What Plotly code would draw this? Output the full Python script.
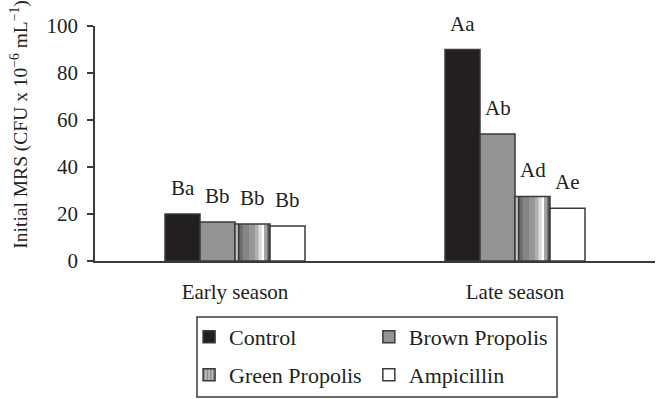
import plotly.graph_objects as go

# Data
seasons = ["Early season", "Late season"]
treatments = ["Control", "Brown Propolis", "Green Propolis", "Ampicillin"]
control = [20.0, 90.0]
brown_propolis = [16.6, 54.0]
green_propolis = [15.7, 27.5]
ampicillin = [14.9, 22.5]
letters = {
    "Control": ["Ba", "Aa"],
    "Brown Propolis": ["Bb", "Ab"],
    "Green Propolis": ["Bb", "Ad"],
    "Ampicillin": ["Bb", "Ae"],
}

values = {
    "Control": control,
    "Brown Propolis": brown_propolis,
    "Green Propolis": green_propolis,
    "Ampicillin": ampicillin,
}

FONT = "Liberation Serif"
TXT = "#231f20"
EDGE = "#3a3a3a"
xpos = list(range(len(seasons)))
bar_w = 0.125
offsets = [-2 * bar_w, -bar_w, 0.0, bar_w]
fills = {"Control": "#231f20", "Brown Propolis": "#939393",
         "Green Propolis": "#8a8a8a", "Ampicillin": "#ffffff"}
# one legend box per entry, laid out as a 2 x 2 grid (paper coords)
legend_ids = {"Control": "legend", "Brown Propolis": "legend2",
              "Green Propolis": "legend3", "Ampicillin": "legend4"}
legend_xy = {"legend": (0.168, -0.234), "legend2": (0.489, -0.234),
             "legend3": (0.168, -0.3957), "legend4": (0.489, -0.3957)}

fig = go.Figure()

# cylinder-like shading of the green propolis bars: (fraction of bar width, colour)
shade = [(0.08, "#c4c4c4"), (0.06, "#3c3c3c"), (0.09, "#6e6e6e"),
         (0.17, "#858585"), (0.17, "#979797"), (0.11, "#b0b0b0"),
         (0.09, "#dedede"), (0.06, "#ffffff"), (0.09, "#a2a2a2"),
         (0.08, "#555555")]

for name, off in zip(treatments, offsets):
    vals = values[name]
    if name == "Green Propolis":
        start = off
        for frac, col in shade:
            fig.add_trace(go.Bar(
                x=xpos, y=vals, offset=start, width=bar_w * frac,
                marker=dict(color=col, line=dict(width=0)),
                showlegend=False, hoverinfo="skip"))
            start += bar_w * frac
        # outline over the shaded strips
        fig.add_trace(go.Bar(
            x=xpos, y=vals, offset=off, width=bar_w, name=name,
            marker=dict(color="rgba(0,0,0,0)", line=dict(color=EDGE, width=1.5)),
            showlegend=False))
        # legend entry with striped swatch
        fig.add_trace(go.Bar(
            x=[None], y=[None], name=name, legend=legend_ids[name],
            marker=dict(color="#999999", line=dict(color=EDGE, width=1.5),
                        pattern=dict(shape="|", fgcolor="#444444",
                                     bgcolor="#bbbbbb", size=4, solidity=0.4)),
            showlegend=True))
    else:
        fig.add_trace(go.Bar(
            x=xpos, y=vals, offset=off, width=bar_w, name=name,
            legend=legend_ids[name],
            marker=dict(color=fills[name], line=dict(color=EDGE, width=1.5))))

    for xi, v, lab in zip(xpos, vals, letters[name]):
        fig.add_annotation(x=xi + off + bar_w / 2, y=v, text=lab,
                           showarrow=False, yanchor="bottom", yshift=12,
                           font=dict(family=FONT, size=21, color=TXT))

# y-axis title
fig.add_annotation(xref="paper", yref="paper", x=-0.134, y=0.58,
                   text="Initial MRS (CFU x 10<sup>\u22126</sup> mL<sup>\u22121</sup>)",
                   textangle=-90, showarrow=False, xanchor="center", yanchor="middle",
                   font=dict(family=FONT, size=19.5, color=TXT))

# frame around the legend grid
fig.add_shape(type="rect", xref="paper", yref="paper",
              x0=0.1821, x1=0.825, y0=-0.5787, y1=-0.2383,
              line=dict(color=EDGE, width=1.5), fillcolor="rgba(0,0,0,0)")

legend_layout = {}
for lid, (lx, ly) in legend_xy.items():
    legend_layout[lid] = dict(x=lx, y=ly, xanchor="left", yanchor="top",
                              orientation="h", borderwidth=0,
                              bgcolor="rgba(0,0,0,0)",
                              font=dict(family=FONT, size=22, color=TXT))

fig.update_layout(
    width=657, height=399,
    margin=dict(l=95, r=2, t=26, b=138, autoexpand=False),
    paper_bgcolor="white", plot_bgcolor="white",
    barmode="overlay",
    font=dict(family=FONT, size=21, color=TXT),
    xaxis=dict(range=[-0.5, 1.5], tickvals=xpos, ticktext=seasons,
               showline=True, linecolor=EDGE, linewidth=1.5,
               ticks="", showgrid=False, zeroline=False,
               ticklabelstandoff=11, automargin=False,
               tickfont=dict(family=FONT, size=21, color=TXT)),
    yaxis=dict(range=[0, 100], tickvals=[0, 20, 40, 60, 80, 100],
               showline=True, linecolor=EDGE, linewidth=1.5,
               ticks="outside", ticklen=6, tickcolor=EDGE, tickwidth=1.5,
               showgrid=False, zeroline=False, ticklabelstandoff=5,
               automargin=False,
               tickfont=dict(family=FONT, size=21, color=TXT)),
    showlegend=True,
    **legend_layout,
)

fig.write_html("out.html")
